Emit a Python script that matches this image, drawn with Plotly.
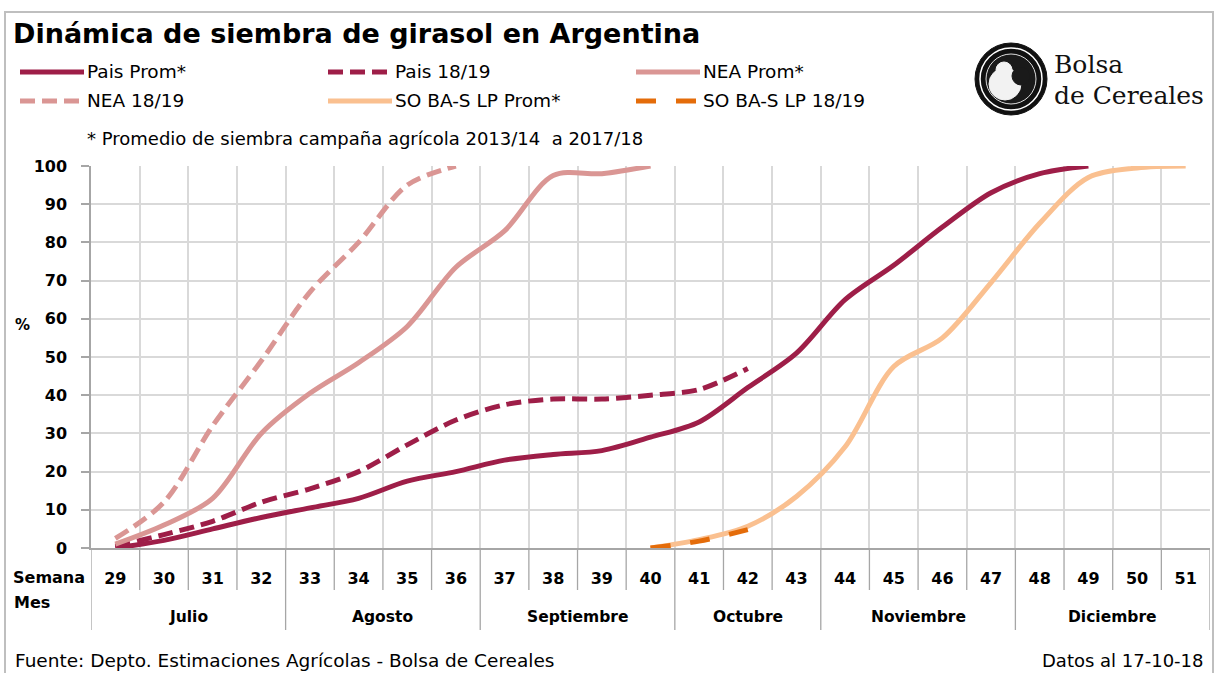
import plotly.graph_objects as go

# ---------------- data ----------------
weeks = [str(w) for w in range(29, 52)]
months = ["Julio", "Agosto", "Septiembre", "Octubre", "Noviembre", "Diciembre"]
month_week_counts = [4, 4, 4, 3, 4, 4]

series_names = ["Pais Prom*", "Pais 18/19", "NEA Prom*", "NEA 18/19",
                "SO BA-S LP Prom*", "SO BA-S LP 18/19"]

pais_prom = [0, 2, 5, 8, 10.5, 13, 17.5, 20, 23, 24.5, 25.5, 29, 33, 42, 51,
             65, 74, 84, 93, 98, 100, None, None]
pais_1819 = [0.5, 3.5, 7, 12, 15.5, 20, 27, 33.5, 37.5, 39, 39, 40, 41.5, 47,
             None, None, None, None, None, None, None, None, None]
nea_prom = [1, 6, 13, 30, 40.5, 48.5, 58, 73.5, 83, 97.5, 98, 100,
            None, None, None, None, None, None, None, None, None, None, None]
nea_1819 = [2.5, 12, 32, 49, 67, 80, 95, 100,
            None, None, None, None, None, None, None, None, None, None, None, None, None, None, None]
so_prom = [None, None, None, None, None, None, None, None, None, None, None,
           0, 2.2, 5.7, 13.5, 26.5, 47.5, 55, 69.5, 85, 97, 99.5, 100]
so_1819 = [None, None, None, None, None, None, None, None, None, None, None,
           0, 1.8, 4.8, None, None, None, None, None, None, None, None, None]

y_ticks = list(range(0, 101, 10))

title_text = "Dinámica de siembra de girasol en Argentina"
note_text = "* Promedio de siembra campaña agrícola 2013/14 &nbsp;a 2017/18"
source_text = "Fuente: Depto. Estimaciones Agrícolas - Bolsa de Cereales"
date_text = "Datos al 17-10-18"
logo_line1 = "Bolsa"
logo_line2 = "de Cereales"

# ---------------- styles ----------------
C_PAIS = "#9E1E48"
C_NEA = "#DA9694"
C_SOP = "#FAC090"
C_SO = "#E46C0A"
series_values = [pais_prom, pais_1819, nea_prom, nea_1819, so_prom, so_1819]
series_colors = [C_PAIS, C_PAIS, C_NEA, C_NEA, C_SOP, C_SO]
series_dash = ["solid", "15px,7px", "solid", "15px,7px", "solid", "20px,20px"]

W, H = 1214, 673
ML, MR, MT, MB = 91, 4, 166, 125
PW = W - ML - MR
PH = H - MT - MB

def X(px):
    return (px - ML) / PW

def Y(py):
    return (H - MB - py) / PH

FONT = "DejaVu Sans"
GRID = "#D9D9D9"
AXC = "#A6A6A6"
TXT = "#000000"

fig = go.Figure()
for name, vals, col, dash in zip(series_names, series_values, series_colors, series_dash):
    fig.add_trace(go.Scatter(
        x=weeks, y=vals, name=name, mode="lines",
        line=dict(color=col, width=5, dash=dash, shape="spline", smoothing=0.9),
        connectgaps=False, showlegend=False, hoverinfo="x+y+name"))

shapes = []
annotations = []

# week separators and month separators below the axis
bounds_month = [-0.5]
acc = -0.5
for c in month_week_counts:
    acc += c
    bounds_month.append(acc)
for k in range(len(weeks) + 1):
    xb = k - 0.5
    is_month = any(abs(xb - b) < 1e-9 for b in bounds_month)
    shapes.append(dict(type="line", xref="x", yref="paper", x0=xb, x1=xb,
                       y0=0, y1=Y(630) if is_month else Y(590),
                       line=dict(color=AXC, width=1.3), layer="above"))

# month labels
start = -0.5
for m, c in zip(months, month_week_counts):
    annotations.append(dict(text="<b>%s</b>" % m, xref="x", yref="paper",
                            x=start + c / 2.0, y=Y(617), showarrow=False,
                            xanchor="center", yanchor="middle",
                            font=dict(family=FONT, size=15.5, color=TXT)))
    start += c

annotations += [
    dict(text="<b>Semana</b>", xref="paper", yref="paper", x=X(87), y=Y(577),
         xanchor="right", yanchor="middle", showarrow=False,
         font=dict(family=FONT, size=16, color=TXT)),
    dict(text="<b>Mes</b>", xref="paper", yref="paper", x=X(12), y=Y(602),
         xanchor="left", yanchor="middle", showarrow=False,
         font=dict(family=FONT, size=16, color=TXT)),
    dict(text="<b>%</b>", xref="paper", yref="paper", x=X(22), y=Y(325),
         xanchor="center", yanchor="middle", showarrow=False,
         font=dict(family=FONT, size=15, color=TXT)),
    dict(text="<b>%s</b>" % title_text, xref="paper", yref="paper", x=X(11), y=Y(33),
         xanchor="left", yanchor="middle", showarrow=False,
         font=dict(family=FONT, size=27, color=TXT)),
    dict(text=note_text, xref="paper", yref="paper", x=X(85), y=Y(138),
         xanchor="left", yanchor="middle", showarrow=False,
         font=dict(family=FONT, size=18, color=TXT)),
    dict(text=source_text, xref="paper", yref="paper", x=X(13), y=Y(660),
         xanchor="left", yanchor="middle", showarrow=False,
         font=dict(family=FONT, size=18.5, color=TXT)),
    dict(text=date_text, xref="paper", yref="paper", x=X(1206), y=Y(660),
         xanchor="right", yanchor="middle", showarrow=False,
         font=dict(family=FONT, size=18, color=TXT)),
    dict(text=logo_line1, xref="paper", yref="paper", x=X(1052), y=Y(65),
         xanchor="left", yanchor="middle", showarrow=False,
         font=dict(family="DejaVu Serif", size=25, color="#111")),
    dict(text=logo_line2, xref="paper", yref="paper", x=X(1052), y=Y(96),
         xanchor="left", yanchor="middle", showarrow=False,
         font=dict(family="DejaVu Serif", size=25, color="#111")),
]

# manual legend (3 columns x 2 rows)
leg_cols = [20, 328, 636]
leg_rows = [72, 101]
for i, (name, col, dash) in enumerate(zip(series_names, series_colors, series_dash)):
    cx = leg_cols[i % 3]
    ry = leg_rows[i // 3]
    shapes.append(dict(type="line", xref="paper", yref="paper",
                       x0=X(cx), x1=X(cx + 64), y0=Y(ry), y1=Y(ry),
                       line=dict(color=col, width=5, dash=dash)))
    annotations.append(dict(text=name, xref="paper", yref="paper", x=X(cx + 65), y=Y(ry),
                            xanchor="left", yanchor="middle", showarrow=False,
                            font=dict(family=FONT, size=18.5, color=TXT)))

# logo emblem
def circ(cx, cy, r, **kw):
    return dict(type="circle", xref="paper", yref="paper",
                x0=X(cx - r), x1=X(cx + r), y0=Y(cy + r), y1=Y(cy - r), **kw)

shapes += [
    circ(1011, 79, 36, fillcolor="#111", line=dict(color="#111", width=1)),
    circ(1011, 79, 31, fillcolor="rgba(0,0,0,0)", line=dict(color="#fff", width=1.5)),
    circ(1011, 79, 25, fillcolor="#1a1a1a", line=dict(color="#ddd", width=1)),
    circ(1005, 84, 16, fillcolor="#f2f2f2", line=dict(color="#f2f2f2", width=1)),
    circ(1004, 70, 8, fillcolor="#f2f2f2", line=dict(color="#f2f2f2", width=1)),
    circ(1021, 76, 9, fillcolor="#1a1a1a", line=dict(color="#1a1a1a", width=1)),
]

# outer border
shapes.append(dict(type="rect", xref="paper", yref="paper",
                   x0=X(5), x1=X(1213), y0=Y(690), y1=Y(12),
                   line=dict(color="#BFBFBF", width=2), fillcolor="rgba(0,0,0,0)"))

fig.update_layout(
    width=W, height=H,
    margin=dict(l=ML, r=MR, t=MT, b=MB),
    paper_bgcolor="white", plot_bgcolor="white",
    shapes=shapes, annotations=annotations,
    xaxis=dict(type="category", range=[-0.5, len(weeks) - 0.5], tickson="boundaries",
               showgrid=True, gridcolor=GRID, gridwidth=1.5,
               showline=True, linecolor=AXC, linewidth=1.5, ticks="",
               tickfont=dict(family=FONT, size=16, color=TXT, weight="bold"),
               ticklabelstandoff=15, fixedrange=True),
    yaxis=dict(range=[0, 100], tickvals=y_ticks, showgrid=True, gridcolor=GRID, gridwidth=1.5,
               showline=True, linecolor=AXC, linewidth=1.5, ticks="outside", ticklen=8,
               tickcolor=AXC, tickwidth=1.5, zeroline=False,
               tickfont=dict(family=FONT, size=16, color=TXT, weight="bold"),
               ticklabelstandoff=11, fixedrange=True),
    showlegend=False,
)

fig.write_html("out.html", config={"displayModeBar": False},
               post_script="document.body.style.margin='0';")
